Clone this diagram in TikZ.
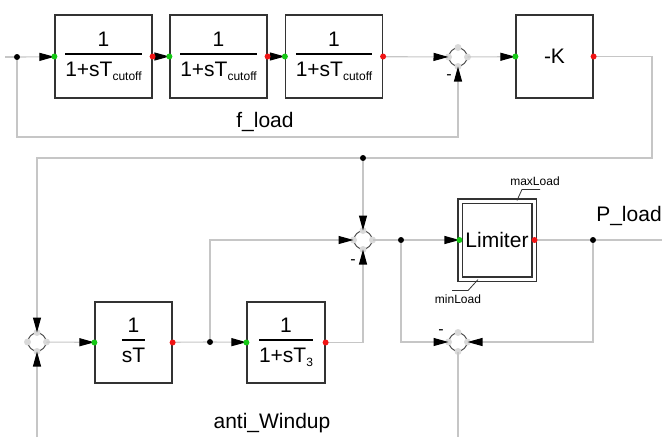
\documentclass[tikz,border=0pt]{standalone}
\usepackage{fontspec}
\setmainfont{Liberation Sans}
\usepackage{tikz}
\usetikzlibrary{arrows.meta}
\definecolor{portin}{RGB}{20,200,20}
\definecolor{portout}{RGB}{240,20,20}
\setlength{\arrayrulewidth}{1.3pt}
\newcommand{\blkfrac}[2]{\begin{tabular}{@{}c@{}}#1\\[0pt]\hline\rule{0pt}{22pt}#2\end{tabular}}
\newcommand{\blksub}[1]{\raisebox{-4pt}{\fontsize{12}{14}\selectfont #1}}

\begin{document}
\begin{tikzpicture}[x=1pt,y=-1pt,
  wire/.style={draw=gray!45,line width=1.1pt},
  arr/.style={-{Triangle[length=15pt,width=8pt,color=black]}},
  blk/.style={draw=black!80,line width=1.2pt,minimum width=97pt,minimum height=83pt,inner sep=0pt,font=\fontsize{21}{24}\selectfont},
  sum/.style={circle,draw=black!70,line width=1pt,minimum size=18pt,inner sep=0pt},
  jdot/.style={circle,fill=black,minimum size=6pt,inner sep=0pt},
  lbl/.style={font=\fontsize{21}{24}\selectfont},
  small/.style={font=\fontsize{12}{14}\selectfont},
  minus/.style={font=\fontsize{16}{18}\selectfont},
  lead/.style={draw=black!80,line width=0.8pt}]
\useasboundingbox (0,0) rectangle (662,437);
% blocks
\node[blk] (b1) at (103.5,56.5) {\blkfrac{1}{1+sT\blksub{cutoff}}};
\node[blk] (b2) at (218.5,56.5) {\blkfrac{1}{1+sT\blksub{cutoff}}};
\node[blk] (b3) at (334,56.5) {\blkfrac{1}{1+sT\blksub{cutoff}}};
\node[blk,minimum width=77pt] (bk) at (554.5,56.5) {-K};
\node[blk,minimum width=77pt,minimum height=81pt] (bi) at (133.5,342.5) {\blkfrac{1}{sT}};
\node[blk,minimum width=78pt,minimum height=81pt] (bt) at (286,342.5) {\blkfrac{1}{1+sT\blksub{3}}};
\node[blk,double,double distance=3pt,line width=1.1pt,minimum width=74pt,minimum height=78pt] (lim) at (497,240) {Limiter};
% sums
\node[sum] (s1) at (458,57) {};
\node[sum] (s2) at (363,240) {};
\node[sum] (s3) at (458,342) {};
\node[sum] (s4) at (37,342) {};
\foreach \s in {s1,s2,s3,s4}
  \foreach \a in {north,east,south,west}
    \fill[gray!30] (\s.\a) circle (3.5pt);
% junctions
\node[jdot] (j1) at (17,57) {};
\node[jdot] (j2) at (363,158) {};
\node[jdot] (j3) at (401,240) {};
\node[jdot] (j4) at (593,240) {};
\node[jdot] (j5) at (210,342) {};
\coordinate (in0) at (5,57);
\coordinate (c2) at (652,158);
\coordinate (fb) at (458,137);
\coordinate (in4) at (37,437);
\coordinate (out3) at (458,437);
\coordinate (out1) at (662,240);
% wires
\draw[wire] (in0) -- (j1);
\draw[wire,arr] (j1) -- (b1);
\draw[wire,arr] (b1) -- (b2);
\draw[wire,arr] (b2) -- (b3);
\draw[wire,arr] (b3) -- (s1);
\draw[wire,arr] (s1) -- (bk);
\draw[wire,arr] (j1) |- (fb) -- (s1);
\draw[wire] (bk) -| (c2) -- (j2);
\draw[wire,arr] (j2) -| (s4);
\draw[wire,arr] (j2) -- (s2);
\draw[wire,arr] (in4) -- (s4);
\draw[wire,arr] (s4) -- (bi);
\draw[wire] (bi) -- (j5);
\draw[wire,arr] (j5) -- (bt);
\draw[wire,arr] (j5) |- (s2);
\draw[wire,arr] (bt) -| (s2);
\draw[wire] (s2) -- (j3);
\draw[wire,arr] (j3) -- (lim);
\draw[wire] (lim) -- (j4) -- (out1);
\draw[wire,arr] (j3) |- (s3);
\draw[wire,arr] (j4) |- (s3);
\draw[wire] (s3) -- (out3);
% ports
\foreach \b in {b1,b2,b3,bk,bi,bt,lim} {
  \fill[portin] (\b.west) circle (3pt);
  \fill[portout] (\b.east) circle (3pt);
}
% labels
\node[lbl] (fl) at (265,122) {f\_load};
\node[lbl] (aw) at (272,423) {anti\_Windup};
\node[lbl] (pl) at (629,216) {P\_load};
\node[small] (mx) at (535,181) {maxLoad};
\node[small] (mn) at (458,299) {minLoad};
\draw[lead] ([xshift=20pt]lim.north) -- ++(5,-11) -- ++(18,0);
\draw[lead] ([xshift=-19pt]lim.south) -- ++(-10,11) -- ++(-16,0);
\node[minus] (m1) at (449,77) {-};
\node[minus] (m2) at (353,262) {-};
\node[minus] (m3) at (441,332) {-};
\end{tikzpicture}
\end{document}
